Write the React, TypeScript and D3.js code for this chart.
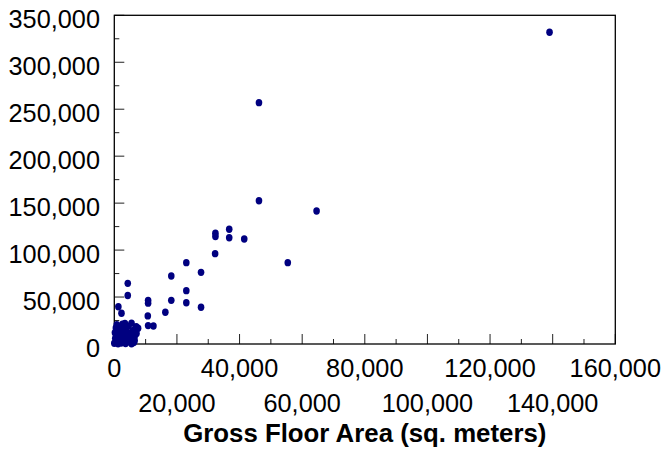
import React from "react";
import * as d3 from "d3";

const xTicks = [0, 20000, 40000, 60000, 80000, 100000, 120000, 140000, 160000];
const xMinorTicks = [10000, 30000, 50000, 70000, 90000, 110000, 130000, 150000];
const yTicks = [0, 50000, 100000, 150000, 200000, 250000, 300000, 350000];
const yMinorTicks = [25000, 75000, 125000, 175000, 225000, 275000, 325000];

const xTitle = "Gross Floor Area (sq. meters)";

// Gross floor area (sq. m)
const areaValues = [
  139000, 46200, 46200, 64600, 36700, 32300, 32300, 36700, 41500, 32200,
  23000, 55400, 27700, 18200, 23000, 18200, 23000, 27700, 16300, 12500,
  10800, 10800, 10700, 10800, 4300, 4300, 1300, 2300,
  3400, 5500, 7000, 7600, 500, 1500, 200, 2800, 4500, 6000,
  5200, 7100, 4400, 2500, 1000, 300, 1800, 3300, 5300, 6500,
  4800, 6200, 2200, 600, 0, 1200, 3600, 5500, 2900, 3800,
  6500, 800, 1900, 3900, 700, 5900, 2600,
];
// Corresponding values (y)
const yValues = [
  332000, 257000, 152600, 141600, 122200, 118000, 114500, 113200, 111800, 96200,
  86600, 86600, 76300, 72400, 56800, 46500, 44000, 39100, 33800, 19200,
  46500, 43500, 29900, 19600, 64600, 51600, 39600, 32700,
  22000, 22200, 18500, 16800, 17000, 15500, 12000, 17500, 19000, 14500,
  11500, 11300, 8000, 12500, 9000, 6000, 5500, 4000, 5500, 8000,
  2300, 1500, 1000, 2500, 800, 200, 600, 300, 8500, 14000,
  3500, 20500, 10500, 10000, 14000, 11000, 21000,
];

const W = 661;
const H = 450;
const L = 114.3;
const R = 615.3;
const T = 15.3;
const B = 344;
const FONT = "'Liberation Sans', Arial, sans-serif";

export default function App() {
  const x = d3.scaleLinear().domain([0, 160000]).range([L, R]);
  const y = d3.scaleLinear().domain([0, 350000]).range([B, T]);
  const fmt = d3.format(",");
  const pts = areaValues.map((a, i) => [a, yValues[i]] as [number, number]);

  return (
    <svg
      width={W}
      height={H}
      style={{ position: "absolute", left: 0, top: 0, background: "#fff" }}
      fontFamily={FONT}
    >
      <rect x={0} y={0} width={W} height={H} fill="#fff" />
      {/* y ticks */}
      {yTicks.map((t) => (
        <g key={"yt" + t}>
          <line x1={L} x2={L + 10} y1={y(t)} y2={y(t)} stroke="#222" strokeWidth={1} />
          <text x={100} y={y(t) + 13} textAnchor="end" fontSize={25.3} fill="#000">
            {fmt(t)}
          </text>
        </g>
      ))}
      {yMinorTicks.map((t) => (
        <line key={"ym" + t} x1={L} x2={L + 5} y1={y(t)} y2={y(t)} stroke="#222" strokeWidth={1} />
      ))}
      {/* x ticks */}
      {xTicks.map((t, i) => (
        <g key={"xt" + t}>
          <line x1={x(t)} x2={x(t)} y1={B} y2={B - 10} stroke="#222" strokeWidth={1} />
          <text
            x={x(t)}
            y={i % 2 === 0 ? B + 33 : B + 68}
            textAnchor="middle"
            fontSize={25.3}
            fill="#000"
          >
            {fmt(t)}
          </text>
        </g>
      ))}
      {xMinorTicks.map((t) => (
        <line key={"xm" + t} x1={x(t)} x2={x(t)} y1={B} y2={B - 5} stroke="#222" strokeWidth={1} />
      ))}
      {/* frame */}
      <rect x={L} y={T} width={R - L} height={B - T} fill="none" stroke="#000" strokeWidth={1.3} />
      {/* points */}
      {pts.map((p, i) => (
        <ellipse key={"p" + i} cx={x(p[0])} cy={y(p[1])} rx={3.3} ry={3.7} fill="#000080" />
      ))}
      {/* title */}
      <text x={(L + R) / 2} y={442} textAnchor="middle" fontSize={25.8} fontWeight="bold" fill="#000">
        {xTitle}
      </text>
    </svg>
  );
}
